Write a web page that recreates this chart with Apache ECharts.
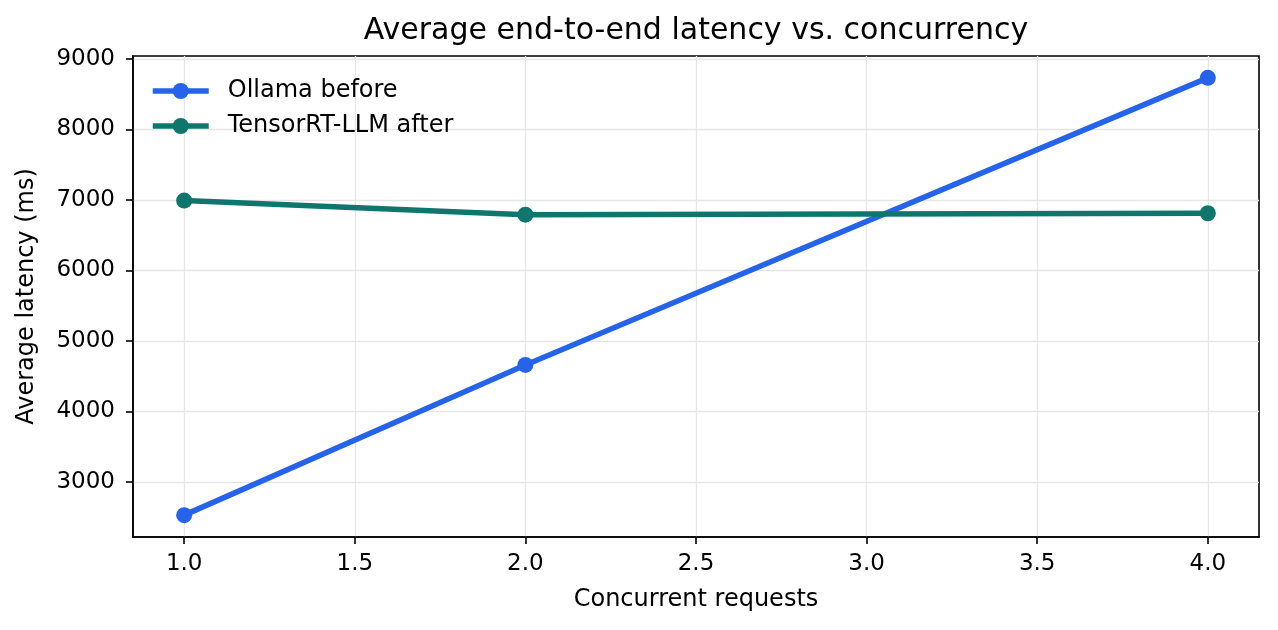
<!DOCTYPE html>
<html>
<head>
<meta charset="utf-8">
<script src="https://cdn.jsdelivr.net/npm/echarts@6/dist/echarts.min.js"></script>
<style>
html,body{margin:0;padding:0;background:#fff;}
#chart{width:1278px;height:630px;}
</style>
</head>
<body>
<div id="chart"></div>
<script>
const concurrency = [1, 2, 4];
const ollamaBefore = [2530, 4660, 8730];
const tensorrtAfter = [6990, 6790, 6810];
const xTicks = [1.0, 1.5, 2.0, 2.5, 3.0, 3.5, 4.0];
const yTicks = [3000, 4000, 5000, 6000, 7000, 8000, 9000];
const seriesNames = ['Ollama before', 'TensorRT-LLM after'];
const seriesColors = ['#2563eb', '#0f766e'];

const FONT = 'DejaVu Sans';
const chart = echarts.init(document.getElementById('chart'), null, {renderer: 'canvas'});

function pairs(xs, ys) { return xs.map((x, i) => [x, ys[i]]); }

const option = {
  animation: false,
  backgroundColor: '#ffffff',
  title: {
    text: 'Average end-to-end latency vs. concurrency',
    left: 696, top: 16, padding: 0, textAlign: 'center',
    textStyle: {fontFamily: FONT, fontSize: 30, fontWeight: 'normal', color: '#000'}
  },
  legend: {
    orient: 'vertical', left: 150, top: 79, itemGap: 11, padding: 0,
    itemWidth: 56, itemHeight: 20,
    lineStyle: {width: 5.5},
    textStyle: {fontFamily: FONT, fontSize: 24, color: '#000', lineHeight: 24, padding: [0, 0, 0, 14]},
    data: seriesNames
  },
  grid: {
    left: 133, right: 19, top: 56, bottom: 93, containLabel: false,
    show: true, borderColor: '#000', borderWidth: 1.6, backgroundColor: 'transparent'
  },
  xAxis: {
    type: 'value', min: 0.85, max: 4.15,
    name: 'Concurrent requests', nameLocation: 'middle', nameGap: 51,
    nameTextStyle: {fontFamily: FONT, fontSize: 24, color: '#000'},
    axisLine: {show: true, onZero: false, lineStyle: {color: '#000', width: 1.6}},
    axisTick: {show: true, inside: false, length: 7, lineStyle: {color: '#000', width: 1.6}, customValues: xTicks},
    axisLabel: {fontFamily: FONT, fontSize: 23, color: '#000', margin: 16, customValues: xTicks,
      formatter: v => Number(v).toFixed(1)},
    splitLine: {show: true, lineStyle: {color: '#e6e6e6', width: 1.3}}
  },
  yAxis: {
    type: 'value', min: 2220, max: 9040,
    name: 'Average latency (ms)', nameLocation: 'middle', nameGap: 94,
    nameTextStyle: {fontFamily: FONT, fontSize: 24, color: '#000'},
    axisLine: {show: true, onZero: false, lineStyle: {color: '#000', width: 1.6}},
    axisTick: {show: true, inside: false, length: 7, lineStyle: {color: '#000', width: 1.6}, customValues: yTicks},
    axisLabel: {fontFamily: FONT, fontSize: 23, color: '#000', margin: 18, customValues: yTicks,
      formatter: v => String(v)},
    splitLine: {show: true, lineStyle: {color: '#e6e6e6', width: 1.3}}
  },
  series: [
    {
      name: seriesNames[0], type: 'line', data: pairs(concurrency, ollamaBefore),
      symbol: 'circle', symbolSize: 16, color: seriesColors[0],
      lineStyle: {width: 5.5, color: seriesColors[0]},
      itemStyle: {color: seriesColors[0]}, z: 3
    },
    {
      name: seriesNames[1], type: 'line', data: pairs(concurrency, tensorrtAfter),
      symbol: 'circle', symbolSize: 16, color: seriesColors[1],
      lineStyle: {width: 5.5, color: seriesColors[1]},
      itemStyle: {color: seriesColors[1]}, z: 4
    }
  ]
};
chart.setOption(option);
</script>
</body>
</html>
